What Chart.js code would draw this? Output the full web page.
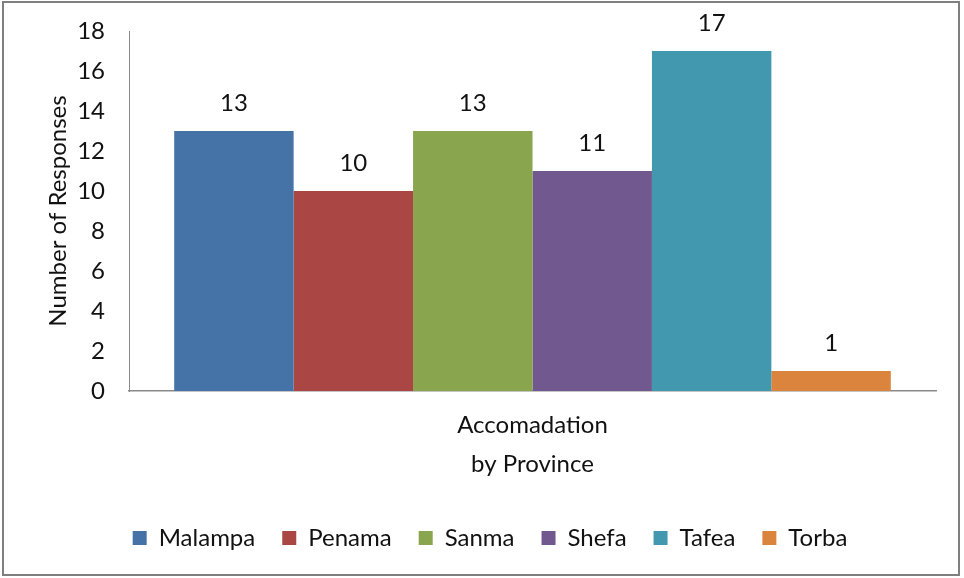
<!DOCTYPE html>
<html>
<head>
<meta charset="utf-8">
<script src="https://cdn.jsdelivr.net/npm/chart.js@4"></script>
<style>
  html, body { margin: 0; padding: 0; background: #fff; }
  #wrap { width: 964px; height: 578px; }
</style>
</head>
<body>
<div id="wrap"><canvas id="myBarChart" width="964" height="578"></canvas></div>
<script>
var categories = ["Accomadation"];
var provinces = ["Malampa", "Penama", "Sanma", "Shefa", "Tafea", "Torba"];
var responses = [13, 10, 13, 11, 17, 1];
var barColors = ["#4572A7", "#AA4643", "#89A54E", "#71588F", "#4198AF", "#DB843D"];
var yMin = 0, yMax = 18, yStep = 2;

var fontFamily = "Lato, 'Open Sans', sans-serif";
var fontSize = 24;
var textColor = "#111";
var axisColor = "#8a8a8a";

// white page + grey frame round the whole chart
var framePlugin = {
  id: "frame",
  beforeDraw: function(chart) {
    var c = chart.ctx;
    c.save();
    c.fillStyle = "#fff";
    c.fillRect(0, 0, chart.width, chart.height);
    c.strokeStyle = "#7f7f7f";
    c.lineWidth = 2;
    c.strokeRect(3, 2, 956, 573);
    c.restore();
  }
};

// value over each bar
var valueLabels = {
  id: "valueLabels",
  afterDatasetsDraw: function(chart) {
    var c = chart.ctx;
    c.save();
    c.font = fontSize + "px " + fontFamily;
    c.fillStyle = textColor;
    c.textAlign = "center";
    c.textBaseline = "middle";
    chart.data.datasets.forEach(function(ds, i) {
      var meta = chart.getDatasetMeta(i);
      meta.data.forEach(function(bar, j) {
        c.fillText(ds.data[j], bar.x, bar.y - 28);
      });
    });
    c.restore();
  }
};

var ctx = document.getElementById("myBarChart");
var chart = new Chart(ctx, {
  type: "bar",
  data: {
    labels: categories,
    datasets: provinces.map(function(name, i) {
      return {
        label: name,
        data: [responses[i]],
        backgroundColor: barColors[i],
        borderWidth: 0,
        categoryPercentage: 0.888,
        barPercentage: 1
      };
    })
  },
  options: {
    responsive: false,
    animation: false,
    layout: {
      padding: { top: 31, left: 44, right: 28, bottom: 18 }
    },
    plugins: {
      legend: {
        position: "bottom",
        labels: {
          color: textColor,
          font: { family: fontFamily, size: fontSize },
          boxWidth: 14,
          boxHeight: 14,
          padding: 27
        }
      },
      tooltip: { enabled: false }
    },
    scales: {
      x: {
        grid: { display: false, drawTicks: false },
        border: { display: true, color: axisColor, width: 1.5 },
        ticks: {
          color: textColor,
          font: { family: fontFamily, size: fontSize },
          padding: 20
        },
        title: {
          display: true,
          text: "by Province",
          color: textColor,
          font: { family: fontFamily, size: fontSize },
          padding: { top: 0, bottom: 20 }
        },
        afterFit: function(scale) { scale.height = 108; }
      },
      y: {
        min: yMin,
        max: yMax,
        grid: { display: false, drawTicks: false },
        border: { display: true, color: axisColor, width: 1 },
        ticks: {
          stepSize: yStep,
          color: textColor,
          font: { family: fontFamily, size: fontSize },
          padding: 24
        },
        title: {
          display: true,
          text: "Number of Responses",
          color: textColor,
          font: { family: fontFamily, size: fontSize },
          padding: { top: 0, bottom: 0 }
        },
        afterFit: function(scale) {
          scale.width = 85;
          scale.paddingTop = 0;
          scale.paddingBottom = 0;
        }
      }
    }
  },
  plugins: [framePlugin, valueLabels]
});
</script>
</body>
</html>
